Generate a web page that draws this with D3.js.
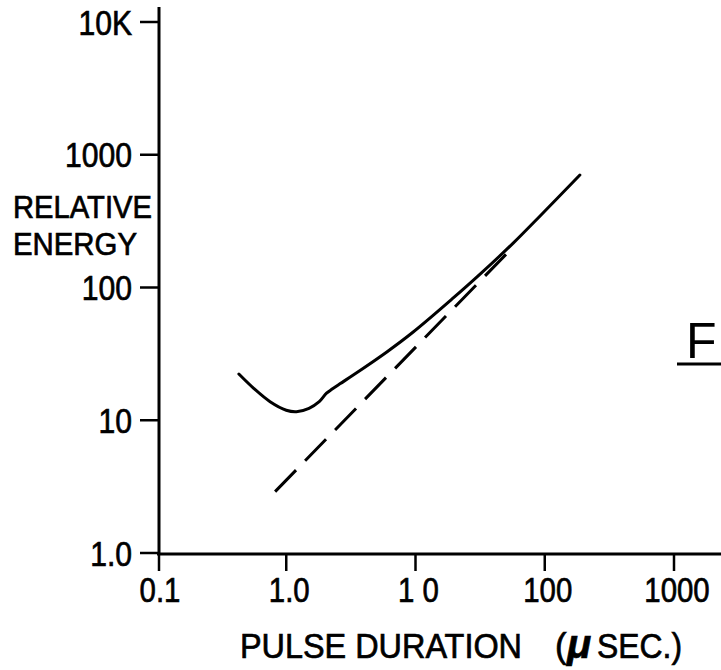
<!DOCTYPE html>
<html>
<head>
    <title></title>
    <script src="https://d3js.org/d3.v7.min.js"></script>
    <style>
        body { margin: 0; background: #fff; }
        text { font-family: 'Liberation Sans', Arial, sans-serif; fill: #000; stroke: #000; stroke-width: 0.7px; }
    </style>
</head>
<body>
    <svg width="721" height="670" id="svg1"></svg>
</body>
<script>
// pulse duration (micro sec) vs relative energy
var durations = [0.43, 0.56, 0.75, 1.0, 1.2, 1.5, 1.8, 2.05, 2.25, 2.6, 3.3, 6.0, 9.6, 19.5, 31.6, 57, 92, 187];
var energies = [22.3, 17.4, 13.8, 11.9, 11.6, 12.3, 13.8, 16.0, 17.1, 18.8, 21.9, 32.7, 46.2, 83, 126, 216, 346, 704];

// dashed reference line (slope 1)
var dashDurations = [0.82, 57];
var dashEnergies = [2.9, 202];

var xTicks = [0.1, 1, 10, 100, 1000];
var xTickLabels = ['0.1', '1.0', '1 0', '100', '1000'];
var yTicks = [1, 10, 100, 1000, 10000];
var yTickLabels = ['1.0', '10', '100', '1000', '10K'];

var svg1 = d3.select('#svg1');

var x = d3.scaleLog().domain([0.1, 1000]).range([157, 674]),
    y = d3.scaleLog().domain([1, 10000]).range([553, 22]);

// lettering in the figure is a bit narrower than the installed fonts
function narrow(sel, k){
    sel.each(function(){
        var w = this.getComputedTextLength();
        d3.select(this).attr('textLength', w * k).attr('lengthAdjust', 'spacingAndGlyphs');
    });
}

// axis lines
svg1.append('line')
    .attr('x1', x(0.1) + 2).attr('x2', x(0.1) + 2)
    .attr('y1', 7).attr('y2', y(1) + 1)
    .attr('stroke', '#000').attr('stroke-width', 3);
svg1.append('line')
    .attr('x1', x(0.1)).attr('x2', 721)
    .attr('y1', y(1) + 1).attr('y2', y(1) + 1)
    .attr('stroke', '#000').attr('stroke-width', 3);

// x ticks
var gx = svg1.append('g');
gx.selectAll('line')
    .data(xTicks)
    .enter()
    .append('line')
    .attr('x1', function(d){ return x(d) + (d === 0.1 ? 2 : 0) })
    .attr('x2', function(d){ return x(d) + (d === 0.1 ? 2 : 0) })
    .attr('y1', y(1))
    .attr('y2', y(1) + 18)
    .attr('stroke', '#000')
    .attr('stroke-width', 2.5);
gx.selectAll('text')
    .data(xTicks)
    .enter()
    .append('text')
    .attr('x', function(d){ return x(d) + 3 })
    .attr('y', 602)
    .attr('text-anchor', 'middle')
    .attr('font-size', 35)
    .text(function(d, i){ return xTickLabels[i] })
    .call(narrow, 0.84);

// y ticks
var gy = svg1.append('g');
gy.selectAll('line')
    .data(yTicks)
    .enter()
    .append('line')
    .attr('x1', 140)
    .attr('x2', x(0.1) + 2)
    .attr('y1', function(d){ return y(d) })
    .attr('y2', function(d){ return y(d) })
    .attr('stroke', '#000')
    .attr('stroke-width', 2.5);
gy.selectAll('text')
    .data(yTicks)
    .enter()
    .append('text')
    .attr('x', 132)
    .attr('y', function(d){ return y(d) + 12.5 })
    .attr('text-anchor', 'end')
    .attr('font-size', 35)
    .text(function(d, i){ return yTickLabels[i] })
    .call(narrow, 0.86);

// axis titles
svg1.append('text')
    .attr('x', 13).attr('y', 218)
    .attr('font-size', 32)
    .attr('textLength', 139).attr('lengthAdjust', 'spacingAndGlyphs')
    .text('RELATIVE');
svg1.append('text')
    .attr('x', 13).attr('y', 255)
    .attr('font-size', 32)
    .attr('textLength', 124).attr('lengthAdjust', 'spacingAndGlyphs')
    .text('ENERGY');

var xt = svg1.append('text')
    .attr('y', 658)
    .attr('font-size', 35);
xt.append('tspan')
    .attr('x', 240)
    .attr('textLength', 282).attr('lengthAdjust', 'spacingAndGlyphs')
    .text('PULSE DURATION');
xt.append('tspan')
    .attr('x', 555)
    .text('(');
xt.append('tspan')
    .attr('x', 567)
    .attr('font-weight', 'bold')
    .attr('font-style', 'italic')
    .attr('font-size', 40)
    .text('μ');
xt.append('tspan')
    .attr('x', 597)
    .attr('textLength', 85).attr('lengthAdjust', 'spacingAndGlyphs')
    .text('SEC.)');

// curves
var line = d3.line()
    .x(function(d){ return x(d[0]) })
    .y(function(d){ return y(d[1]) })
    .curve(d3.curveCatmullRom);

svg1.append('path')
    .datum(durations.map(function(d, i){ return [d, energies[i]] }))
    .attr('d', line)
    .attr('fill', 'none')
    .attr('stroke', '#000')
    .attr('stroke-width', 3)
    .attr('stroke-linecap', 'round');

svg1.append('path')
    .datum(dashDurations.map(function(d, i){ return [d, dashEnergies[i]] }))
    .attr('d', d3.line().x(function(d){ return x(d[0]) }).y(function(d){ return y(d[1]) }))
    .attr('fill', 'none')
    .attr('stroke', '#000')
    .attr('stroke-width', 3)
    .attr('stroke-dasharray', '30,13');

// panel letter
svg1.append('text')
    .attr('x', 686).attr('y', 358)
    .attr('font-size', 50)
    .style('stroke-width', '0px')
    .text('F');
svg1.append('line')
    .attr('x1', 677).attr('x2', 721)
    .attr('y1', 364).attr('y2', 364)
    .attr('stroke', '#000').attr('stroke-width', 3);
</script>
</html>
